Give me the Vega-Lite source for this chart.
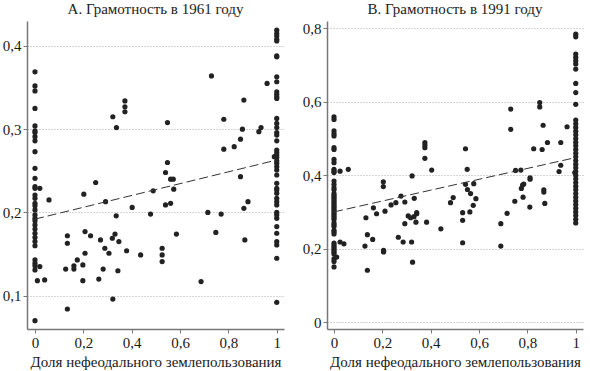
{
  "$schema": "https://vega.github.io/schema/vega-lite/v6.json",
  "padding": {"left": 2, "top": 2, "right": 2, "bottom": 2},
  "spacing": 18,
  "config": {
    "view": {"stroke": null},
    "font": "Liberation Sans Narrow",
    "title": {"font": "Liberation Sans Narrow", "fontSize": 15, "fontWeight": "normal", "color": "#222", "offset": 4},
    "axis": {
      "labelFont": "Liberation Sans Narrow", "labelFontSize": 15, "labelColor": "#1a1a1a",
      "titleFont": "Liberation Sans Narrow", "titleFontSize": 15, "titleFontWeight": "normal", "titleColor": "#1a1a1a",
      "domainColor": "#777", "domainWidth": 1.5, "tickColor": "#777", "tickSize": 4,
      "gridColor": "#aaa", "gridDash": [1, 2], "gridWidth": 1
    }
  },
  "datasets": {
    "d61": [
      {"x":0,"y":0.369},{"x":0,"y":0.352},{"x":0,"y":0.346},{"x":0,"y":0.325},{"x":0,"y":0.304},{"x":0,"y":0.298},{"x":0,"y":0.296},{"x":0,"y":0.291},{"x":0,"y":0.286},{"x":0,"y":0.273},{"x":0,"y":0.253},{"x":0,"y":0.241},{"x":0,"y":0.231},{"x":0,"y":0.229},{"x":0,"y":0.221},{"x":0,"y":0.217},{"x":0,"y":0.211},{"x":0,"y":0.208},{"x":0,"y":0.203},{"x":0,"y":0.197},{"x":0,"y":0.193},{"x":0,"y":0.19},{"x":0,"y":0.185},{"x":0,"y":0.18},{"x":0,"y":0.175},{"x":0,"y":0.17},{"x":0,"y":0.165},{"x":0,"y":0.16},{"x":0,"y":0.143},{"x":0,"y":0.139},{"x":0,"y":0.136},{"x":0,"y":0.131},{"x":0,"y":0.07},
      {"x":0.02,"y":0.229},{"x":0.058,"y":0.215},{"x":0.02,"y":0.135},{"x":0.01,"y":0.118},{"x":0.04,"y":0.119},
      {"x":0.251,"y":0.236},{"x":0.322,"y":0.315},{"x":0.337,"y":0.302},{"x":0.372,"y":0.334},{"x":0.372,"y":0.327},{"x":0.372,"y":0.321},{"x":0.548,"y":0.308},{"x":0.548,"y":0.26},{"x":0.54,"y":0.248},{"x":0.561,"y":0.24},{"x":0.572,"y":0.24},{"x":0.574,"y":0.228},{"x":0.489,"y":0.226},{"x":0.73,"y":0.364},{"x":0.781,"y":0.312},{"x":0.781,"y":0.276},{"x":0.824,"y":0.279},{"x":0.85,"y":0.288},{"x":0.858,"y":0.3},{"x":0.864,"y":0.335},{"x":0.85,"y":0.243},{"x":0.926,"y":0.297},{"x":0.935,"y":0.302},{"x":0.96,"y":0.355},{"x":0.99,"y":0.267},
      {"x":0.202,"y":0.222},{"x":0.292,"y":0.213},{"x":0.54,"y":0.209},{"x":0.561,"y":0.211},{"x":0.402,"y":0.206},{"x":0.478,"y":0.198},{"x":0.336,"y":0.196},{"x":0.134,"y":0.172},{"x":0.134,"y":0.163},{"x":0.207,"y":0.177},{"x":0.23,"y":0.172},{"x":0.271,"y":0.167},{"x":0.331,"y":0.174},{"x":0.32,"y":0.169},{"x":0.347,"y":0.165},{"x":0.289,"y":0.157},{"x":0.306,"y":0.151},{"x":0.207,"y":0.151},{"x":0.379,"y":0.154},{"x":0.437,"y":0.149},{"x":0.175,"y":0.143},{"x":0.161,"y":0.136},{"x":0.161,"y":0.132},{"x":0.198,"y":0.137},{"x":0.127,"y":0.132},{"x":0.282,"y":0.132},{"x":0.343,"y":0.13},{"x":0.264,"y":0.12},{"x":0.198,"y":0.118},{"x":0.322,"y":0.096},{"x":0.134,"y":0.084},{"x":0.526,"y":0.157},{"x":0.526,"y":0.149},{"x":0.526,"y":0.141},{"x":0.585,"y":0.174},{"x":0.687,"y":0.117},{"x":0.715,"y":0.2},{"x":0.77,"y":0.198},{"x":0.748,"y":0.176},{"x":0.864,"y":0.205},{"x":0.881,"y":0.213},{"x":0.868,"y":0.167},
      {"x":1,"y":0.419},{"x":1,"y":0.415},{"x":1,"y":0.412},{"x":1,"y":0.408},{"x":1,"y":0.406},{"x":1,"y":0.388},{"x":1,"y":0.387},{"x":1,"y":0.363},{"x":1,"y":0.357},{"x":1,"y":0.345},{"x":1,"y":0.342},{"x":1,"y":0.339},{"x":1,"y":0.337},{"x":1,"y":0.313},{"x":1,"y":0.307},{"x":1,"y":0.302},{"x":1,"y":0.296},{"x":1,"y":0.293},{"x":1,"y":0.286},{"x":1,"y":0.275},{"x":1,"y":0.272},{"x":1,"y":0.269},{"x":1,"y":0.266},{"x":1,"y":0.262},{"x":1,"y":0.259},{"x":1,"y":0.255},{"x":1,"y":0.251},{"x":1,"y":0.245},{"x":1,"y":0.235},{"x":1,"y":0.229},{"x":1,"y":0.227},{"x":1,"y":0.223},{"x":1,"y":0.217},{"x":1,"y":0.213},{"x":1,"y":0.209},{"x":1,"y":0.2},{"x":1,"y":0.197},{"x":1,"y":0.193},{"x":1,"y":0.183},{"x":1,"y":0.175},{"x":1,"y":0.165},{"x":1,"y":0.161},{"x":1,"y":0.145},{"x":1,"y":0.092}
    ],
    "fit61": [{"x":0,"y":0.192},{"x":1,"y":0.263}],
    "d91": [
      {"x":0,"y":0.559},{"x":0,"y":0.552},{"x":0,"y":0.521},{"x":0,"y":0.513},{"x":0,"y":0.507},{"x":0,"y":0.475},{"x":0,"y":0.47},{"x":0,"y":0.443},{"x":0,"y":0.434},{"x":0,"y":0.416},{"x":0,"y":0.411},{"x":0,"y":0.407},{"x":0,"y":0.384},{"x":0,"y":0.375},{"x":0,"y":0.366},{"x":0,"y":0.36},{"x":0,"y":0.35},{"x":0,"y":0.345},{"x":0,"y":0.34},{"x":0,"y":0.335},{"x":0,"y":0.33},{"x":0,"y":0.325},{"x":0,"y":0.32},{"x":0,"y":0.315},{"x":0,"y":0.31},{"x":0,"y":0.305},{"x":0,"y":0.3},{"x":0,"y":0.295},{"x":0,"y":0.29},{"x":0,"y":0.285},{"x":0,"y":0.28},{"x":0,"y":0.27},{"x":0,"y":0.265},{"x":0,"y":0.26},{"x":0,"y":0.25},{"x":0,"y":0.245},{"x":0,"y":0.24},{"x":0,"y":0.215},{"x":0,"y":0.21},{"x":0,"y":0.205},{"x":0,"y":0.2},{"x":0,"y":0.195},{"x":0,"y":0.19},{"x":0,"y":0.185},{"x":0,"y":0.172},{"x":0,"y":0.165},{"x":0,"y":0.15},
      {"x":0.025,"y":0.411},{"x":0.059,"y":0.416},{"x":0.025,"y":0.218},{"x":0.041,"y":0.213},{"x":0.011,"y":0.177},
      {"x":0.204,"y":0.382},{"x":0.204,"y":0.369},{"x":0.323,"y":0.398},{"x":0.376,"y":0.489},{"x":0.376,"y":0.482},{"x":0.376,"y":0.475},{"x":0.376,"y":0.446},{"x":0.404,"y":0.414},{"x":0.544,"y":0.472},{"x":0.551,"y":0.416},{"x":0.544,"y":0.375},{"x":0.552,"y":0.361},{"x":0.578,"y":0.377},{"x":0.731,"y":0.58},{"x":0.731,"y":0.525},{"x":0.751,"y":0.413},{"x":0.773,"y":0.414},{"x":0.775,"y":0.364},{"x":0.78,"y":0.373},{"x":0.785,"y":0.376},{"x":0.811,"y":0.393},{"x":0.811,"y":0.389},{"x":0.826,"y":0.472},{"x":0.851,"y":0.598},{"x":0.851,"y":0.586},{"x":0.861,"y":0.47},{"x":0.865,"y":0.536},{"x":0.883,"y":0.489},{"x":0.868,"y":0.36},{"x":0.868,"y":0.354},{"x":0.931,"y":0.41},{"x":0.938,"y":0.427},{"x":0.938,"y":0.489},{"x":0.964,"y":0.532},{"x":0.996,"y":0.407},
      {"x":0.132,"y":0.284},{"x":0.138,"y":0.238},{"x":0.16,"y":0.225},{"x":0.128,"y":0.207},{"x":0.138,"y":0.141},{"x":0.163,"y":0.311},{"x":0.176,"y":0.295},{"x":0.211,"y":0.302},{"x":0.205,"y":0.193},{"x":0.205,"y":0.191},{"x":0.205,"y":0.195},{"x":0.236,"y":0.319},{"x":0.256,"y":0.325},{"x":0.277,"y":0.343},{"x":0.293,"y":0.327},{"x":0.293,"y":0.268},{"x":0.266,"y":0.231},{"x":0.286,"y":0.218},{"x":0.321,"y":0.218},{"x":0.325,"y":0.163},{"x":0.332,"y":0.337},{"x":0.307,"y":0.289},{"x":0.317,"y":0.284},{"x":0.331,"y":0.287},{"x":0.342,"y":0.295},{"x":0.342,"y":0.298},{"x":0.339,"y":0.272},{"x":0.383,"y":0.272},{"x":0.442,"y":0.254},{"x":0.482,"y":0.325},{"x":0.493,"y":0.339},{"x":0.532,"y":0.298},{"x":0.532,"y":0.277},{"x":0.532,"y":0.216},{"x":0.565,"y":0.35},{"x":0.576,"y":0.318},{"x":0.587,"y":0.336},{"x":0.562,"y":0.3},{"x":0.69,"y":0.268},{"x":0.69,"y":0.207},{"x":0.716,"y":0.296},{"x":0.748,"y":0.329},{"x":0.782,"y":0.34},{"x":0.81,"y":0.313},{"x":0.872,"y":0.323},
      {"x":1,"y":0.784},{"x":1,"y":0.777},{"x":1,"y":0.73},{"x":1,"y":0.721},{"x":1,"y":0.712},{"x":1,"y":0.703},{"x":1,"y":0.689},{"x":1,"y":0.65},{"x":1,"y":0.625},{"x":1,"y":0.593},{"x":1,"y":0.55},{"x":1,"y":0.54},{"x":1,"y":0.53},{"x":1,"y":0.52},{"x":1,"y":0.51},{"x":1,"y":0.5},{"x":1,"y":0.49},{"x":1,"y":0.48},{"x":1,"y":0.47},{"x":1,"y":0.46},{"x":1,"y":0.45},{"x":1,"y":0.44},{"x":1,"y":0.43},{"x":1,"y":0.42},{"x":1,"y":0.41},{"x":1,"y":0.4},{"x":1,"y":0.39},{"x":1,"y":0.38},{"x":1,"y":0.37},{"x":1,"y":0.36},{"x":1,"y":0.35},{"x":1,"y":0.34},{"x":1,"y":0.33},{"x":1,"y":0.32},{"x":1,"y":0.31},{"x":1,"y":0.3},{"x":1,"y":0.29},{"x":1,"y":0.28},{"x":1,"y":0.27}
    ],
    "fit91": [{"x":0,"y":0.30},{"x":1,"y":0.448}]
  },
  "hconcat": [
    {
      "width": 257, "height": 308,
      "title": "A. Грамотность в 1961 году",
      "layer": [
        {
          "data": {"name": "d61"},
          "mark": {"type": "circle", "size": 27, "color": "#222", "opacity": 1},
          "encoding": {
            "x": {"field": "x", "type": "quantitative", "scale": {"domain": [-0.033, 1.03], "nice": false, "zero": false},
                  "axis": {"values": [0, 0.2, 0.4, 0.6, 0.8, 1], "format": ".1~f", "labelExpr": "replace(datum.label, '.', ',')", "title": "Доля нефеодального землепользования", "grid": false}},
            "y": {"field": "y", "type": "quantitative", "scale": {"domain": [0.06, 0.43], "nice": false, "zero": false},
                  "axis": {"values": [0.1, 0.2, 0.3, 0.4], "format": ".1f", "labelExpr": "replace(datum.label, '.', ',')", "title": null, "grid": true}}
          }
        },
        {
          "data": {"name": "fit61"},
          "mark": {"type": "line", "color": "#333", "strokeWidth": 1, "strokeDash": [9, 4]},
          "encoding": {
            "x": {"field": "x", "type": "quantitative"},
            "y": {"field": "y", "type": "quantitative"}
          }
        }
      ]
    },
    {
      "width": 256, "height": 308,
      "title": "B. Грамотность в 1991 году",
      "layer": [
        {
          "data": {"name": "d91"},
          "mark": {"type": "circle", "size": 27, "color": "#222", "opacity": 1},
          "encoding": {
            "x": {"field": "x", "type": "quantitative", "scale": {"domain": [-0.029, 1.03], "nice": false, "zero": false},
                  "axis": {"values": [0, 0.2, 0.4, 0.6, 0.8, 1], "format": ".1~f", "labelExpr": "replace(datum.label, '.', ',')", "title": "Доля нефеодального землепользования", "grid": false}},
            "y": {"field": "y", "type": "quantitative", "scale": {"domain": [-0.019, 0.82], "nice": false, "zero": false},
                  "axis": {"values": [0, 0.2, 0.4, 0.6, 0.8], "format": ".1~f", "labelExpr": "replace(datum.label, '.', ',')", "title": null, "grid": true}}
          }
        },
        {
          "data": {"name": "fit91"},
          "mark": {"type": "line", "color": "#333", "strokeWidth": 1, "strokeDash": [9, 4]},
          "encoding": {
            "x": {"field": "x", "type": "quantitative"},
            "y": {"field": "y", "type": "quantitative"}
          }
        }
      ]
    }
  ]
}
